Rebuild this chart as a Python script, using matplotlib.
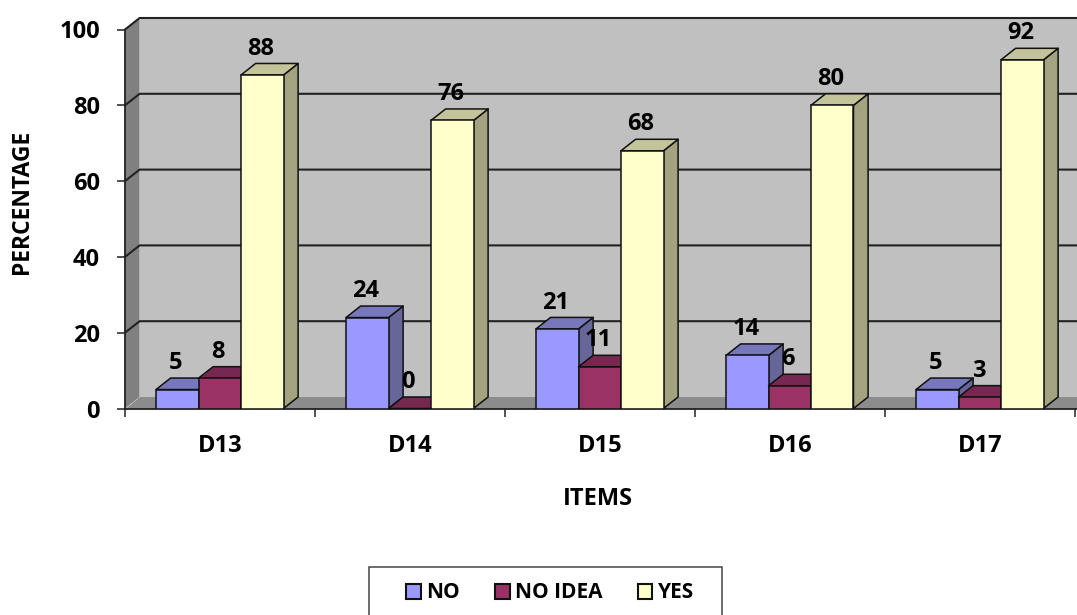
"""
Clustered 3D style column chart (flat matplotlib drawing).
"""

import matplotlib
matplotlib.use("Agg")
import matplotlib.pyplot as plt
from matplotlib.patches import Polygon, Patch, Rectangle

plt.rcParams["font.family"] = ["Open Sans", "DejaVu Sans"]
plt.rcParams["font.weight"] = "bold"

items = ["D13", "D14", "D15", "D16", "D17"]
series_names = ["NO", "NO IDEA", "YES"]
no_vals = [5, 24, 21, 14, 5]
no_idea_vals = [8, 0, 11, 6, 3]
yes_vals = [88, 76, 68, 80, 92]
y_ticks = [0, 20, 40, 60, 80, 100]

front_cols = ["#9999FF", "#993366", "#FFFFCC"]
side_cols = ["#666699", "#662244", "#A3A37F"]
top_cols = ["#7777BB", "#772850", "#C4C49A"]

W, H = 1077, 615
fig = plt.figure(figsize=(W / 100, H / 100), dpi=100)
ax = fig.add_axes([125 / W, 1 - 408.5 / H, (W - 125) / W, 379 / H])
cat_px = 190.0
x_max = (W - 125) / cat_px
ax.set_xlim(0, x_max)
ax.set_ylim(0, 100)
for s in ax.spines.values():
    s.set_visible(False)

# depth of the fake 3D box, in data units
dx = 14.6 / cat_px
dy = 11.5 / 3.79
bar_w = 42.5 / cat_px
bar_off = 31 / cat_px
edge = "#111111"

# walls
ax.add_patch(Polygon([(dx, dy), (x_max + 0.1, dy), (x_max + 0.1, 100 + dy), (dx, 100 + dy)],
                     fc="#C0C0C0", ec="none", zorder=1, clip_on=False))
ax.add_patch(Polygon([(0, 0), (dx, dy), (dx, 100 + dy), (0, 100)],
                     fc="#808080", ec="none", zorder=1, clip_on=False))
ax.add_patch(Polygon([(0, 0), (x_max + 0.1, 0), (x_max + 0.1, dy), (dx, dy)],
                     fc="#8C8C8C", ec="none", zorder=1, clip_on=False))

# gridlines run along the back wall and step down the side wall
for v in y_ticks[1:]:
    ax.plot([0, dx, x_max], [v, v + dy, v + dy], color="#222222", lw=1.5, zorder=2, clip_on=False)
ax.plot([0, 0], [0, 100], color="#222222", lw=1.3, zorder=2, clip_on=False)
ax.plot([0, x_max], [0, 0], color="#222222", lw=1.3, zorder=2, clip_on=False)

# bars, left to right so that each one covers the side of the previous
z = 3
for i in range(len(items)):
    for s, vals in enumerate([no_vals, no_idea_vals, yes_vals]):
        x0 = i + bar_off + s * bar_w
        x1 = x0 + bar_w
        v = vals[i]
        ax.add_patch(Polygon([(x1, 0), (x1 + dx, dy), (x1 + dx, v + dy), (x1, v)],
                             fc=side_cols[s], ec=edge, lw=1.1, zorder=z, clip_on=False, joinstyle="round"))
        ax.add_patch(Polygon([(x0, v), (x1, v), (x1 + dx, v + dy), (x0 + dx, v + dy)],
                             fc=top_cols[s], ec=edge, lw=1.1, zorder=z, clip_on=False, joinstyle="round"))
        ax.bar(x0, v, width=bar_w, align="edge", color=front_cols[s], edgecolor=edge, lw=1.1, zorder=z + 0.5)
        z += 1

for i in range(len(items)):
    for s, vals in enumerate([no_vals, no_idea_vals, yes_vals]):
        x0 = i + bar_off + s * bar_w
        ax.annotate(str(vals[i]), (x0 + bar_w / 2, vals[i]), xytext=(-1, 19), textcoords="offset points",
                    ha="center", va="center", fontsize=17, fontweight="bold", color="black",
                    zorder=100, annotation_clip=False)

ax.set_yticks(y_ticks)
ax.set_xticks(range(len(items) + 1))
ax.set_xticklabels([""] * (len(items) + 1))
ax.tick_params(axis="y", length=6, width=1.1, color="#222222", pad=12, labelsize=17)
ax.tick_params(axis="x", length=6, width=1.1, color="#222222")
for i, name in enumerate(items):
    ax.annotate(name, (i + 0.5, 0), xytext=(0, -27), textcoords="offset points", ha="center", va="center",
                fontsize=17, fontweight="bold", annotation_clip=False)

fig.text(22 / W, 1 - 202 / H, "PERCENTAGE", rotation=90, ha="center", va="center", fontsize=16.5, fontweight="bold")
fig.text(598 / W, 1 - 499 / H, "ITEMS", ha="center", va="center", fontsize=17, fontweight="bold")

# legend frame runs off the bottom of the picture
fig.add_artist(Rectangle((369 / W, -5 / H), 353 / W, 53 / H, transform=fig.transFigure,
                         fc="white", ec="#444444", lw=1.1))
handles = [Patch(fc=front_cols[s], ec="#111111", lw=1.5, label=series_names[s]) for s in range(3)]
fig.legend(handles=handles, loc="center", bbox_to_anchor=(550 / W, 1 - 593 / H), ncol=3, frameon=False,
           fontsize=15, handlelength=0.7, handleheight=0.7,
           handletextpad=0.25, columnspacing=1.7, borderpad=0, borderaxespad=0)

fig.savefig("out.png", dpi=100)
